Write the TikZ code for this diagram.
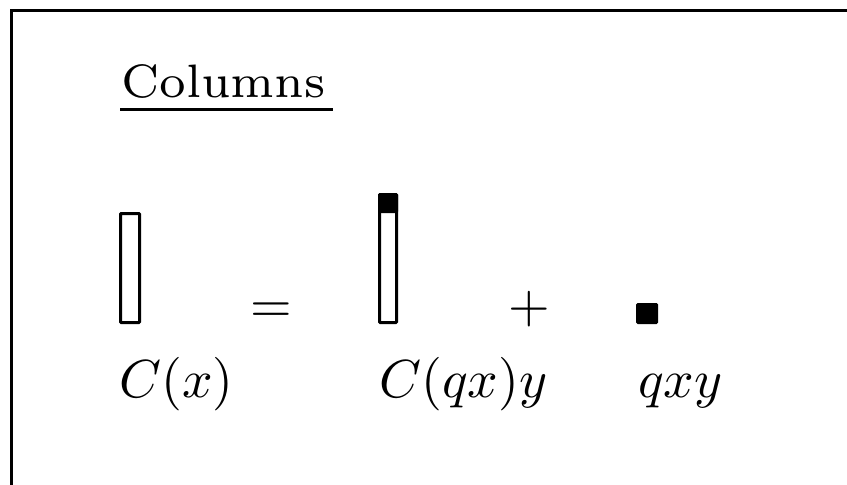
\documentclass[tikz,border=0pt]{standalone}
\usepackage{graphicx}
\newcommand{\largemath}[1]{\scalebox{5.35}{$#1$}}
\begin{document}
\begin{tikzpicture}[x=1pt,y=-1pt,
  frame/.style={line width=3pt},
  col/.style={draw,line width=3pt,rounded corners=0.8pt},
  blk/.style={fill=black,rounded corners=1.5pt},
  mth/.style={inner sep=0pt,anchor=base west},
  op/.style={inner sep=0pt,anchor=base}]
\useasboundingbox (0,0) rectangle (847,485);
% frame
\coordinate (tl) at (11.5,10.5);
\coordinate (tr) at (847,10.5);
\coordinate (bl) at (11.5,485);
\draw[frame] (tr) -- (tl) -- (bl);
% title
\node[inner sep=0pt,anchor=base west] (title) at (121,97) {\scalebox{6.7}{\fontsize{7}{8}\selectfont Columns}};
\coordinate (ul1) at (120,109.5);
\coordinate (ul2) at (333,109.5);
\draw[line width=3pt] (ul1) -- (ul2);
% column C(x)
\draw[col] (120.5,213.5) rectangle (139.5,322.5);
% column C(qx)y
\fill[blk] (378,193) rectangle (398,213);
\draw[col] (379.5,194.5) rectangle (396.5,322.5);
% small square
\fill[blk] (636,303) rectangle (658,324);
% operators
\node[op] (eq) at (271,322) {\largemath{=}};
\node[op] (plus) at (529,322) {\largemath{+}};
% labels
\node[mth] (l1) at (119,397) {\largemath{C(x)}};
\node[mth] (l2) at (379,397) {\largemath{C(qx)y}};
\node[mth] (l3) at (638,397) {\largemath{qxy}};
\end{tikzpicture}
\end{document}
